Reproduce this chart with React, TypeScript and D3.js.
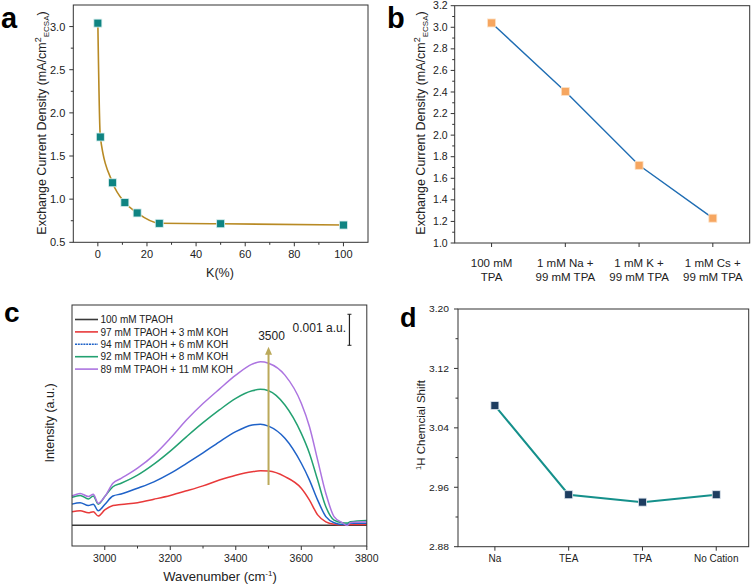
import React from "react";
import * as d3 from "d3";

// ---------- Panel a ----------
const kPercent = [0, 1, 6, 11, 16, 25, 50, 100];
const kDensity = [3.04, 1.72, 1.19, 0.96, 0.84, 0.72, 0.715, 0.70];

// ---------- Panel b ----------
const bCategories = [
  ["100 mM", "TPA"],
  ["1 mM Na +", "99 mM TPA"],
  ["1 mM K +", "99 mM TPA"],
  ["1 mM Cs +", "99 mM TPA"],
];
const bDensity = [3.04, 2.405, 1.72, 1.23];

// ---------- Panel c ----------
const wavenumbers = [2900, 2925, 2950, 2965, 2980, 3000, 3025, 3050, 3100, 3150, 3200, 3250, 3300, 3350, 3400, 3450, 3475, 3500, 3550, 3600, 3625, 3650, 3675, 3700, 3725, 3740, 3750, 3800];
const s100TPAOH = [0, 0, 0, 0, 0, 0, 0, 0, 0, 0, 0, 0, 0, 0, 0, 0, 0, 0, 0, 0, 0, 0, 0, 0, 0, 0, 0, 0];
const s3KOH = [0.47, 0.5, 0.43, 0.47, 0.32, 0.53, 0.68, 0.72, 0.78, 0.9, 1.03, 1.19, 1.36, 1.56, 1.73, 1.85, 1.88, 1.87, 1.68, 1.28, 0.87, 0.36, 0.12, 0.04, 0.02, 0.02, 0.03, 0.03];
const s6KOH = [0.73, 0.78, 0.68, 0.73, 0.5, 0.72, 1.01, 1.08, 1.28, 1.5, 1.79, 2.14, 2.5, 2.88, 3.23, 3.46, 3.49, 3.42, 3.0, 2.14, 1.56, 0.87, 0.3, 0.09, 0.03, 0.04, 0.07, 0.07];
const s8KOH = [0.97, 1.03, 0.91, 1.01, 0.73, 0.99, 1.33, 1.45, 1.73, 2.11, 2.56, 3.06, 3.54, 3.98, 4.38, 4.64, 4.69, 4.64, 4.15, 3.17, 2.48, 1.56, 0.64, 0.18, 0.09, 0.08, 0.12, 0.17];
const s11KOH = [1.01, 1.1, 0.99, 1.07, 0.76, 0.99, 1.45, 1.62, 1.97, 2.42, 3.0, 3.64, 4.2, 4.7, 5.18, 5.56, 5.64, 5.59, 5.18, 4.21, 3.4, 2.25, 1.1, 0.3, 0.09, -0.01, 0.09, 0.12];
const cLegend = [
  "100 mM TPAOH",
  "97 mM TPAOH + 3 mM KOH",
  "94 mM TPAOH + 6 mM KOH",
  "92 mM TPAOH + 8 mM KOH",
  "89 mM TPAOH + 11 mM KOH",
];
const cSeries = [s100TPAOH, s3KOH, s6KOH, s8KOH, s11KOH];
const cColors = ["#3a3a3a", "#e8393a", "#1f62c8", "#23a171", "#ac74e0"];
const cTicks = [3000, 3200, 3400, 3600, 3800];

// ---------- Panel d ----------
const dCategories = ["Na", "TEA", "TPA", "No Cation"];
const dShift = [3.07, 2.95, 2.94, 2.95];
const dTicks = [2.88, 2.96, 3.04, 3.12, 3.2];

const FONT = "Arial, 'Liberation Sans', Helvetica, sans-serif";
const AX = "#333";

function Frame({ x0, x1, y0, y1 }: any) {
  return <rect x={x0} y={y0} width={x1 - x0} height={y1 - y0} fill="none" stroke={AX} strokeWidth={1} />;
}

function PanelA() {
  const x = d3.scaleLinear().domain([-10, 110]).range([73.3, 368]);
  const y = d3.scaleLinear().domain([0.5, 3.25]).range([242.3, 5]);
  const line = d3.line<number>().x((_, i) => x(kPercent[i])).y((d) => y(d)).curve(d3.curveMonotoneX);
  const xMaj = d3.range(0, 101, 20);
  const xMin = d3.range(-10, 111, 10).filter((v) => v % 20 !== 0 && v > -10 && v < 110);
  const yMaj = d3.range(0.5, 3.01, 0.5);
  const yMin = d3.range(0.75, 3.25, 0.5);
  const [x0, x1] = x.range();
  const [y1, y0] = y.range();
  return (
    <g>
      <text x={1} y={27.5} fontSize={29} fontWeight="bold" fontFamily={FONT}>a</text>
      <Frame x0={x0} x1={x1} y0={y0} y1={y1} />
      {xMaj.map((v) => (
        <g key={"xa" + v}>
          <line x1={x(v)} x2={x(v)} y1={y1} y2={y1 + 4} stroke={AX} />
          <text x={x(v)} y={y1 + 16} fontSize={11} textAnchor="middle" fontFamily={FONT} fill="#222">{v}</text>
        </g>
      ))}
      {xMin.map((v) => <line key={"xm" + v} x1={x(v)} x2={x(v)} y1={y1} y2={y1 + 2.5} stroke={AX} />)}
      {yMaj.map((v) => (
        <g key={"ya" + v}>
          <line x1={x0} x2={x0 - 4} y1={y(v)} y2={y(v)} stroke={AX} />
          <text x={x0 - 8} y={y(v) + 4} fontSize={11} textAnchor="end" fontFamily={FONT} fill="#222">{v.toFixed(1)}</text>
        </g>
      ))}
      {yMin.map((v) => <line key={"ym" + v} x1={x0} x2={x0 - 2.5} y1={y(v)} y2={y(v)} stroke={AX} />)}
      <path d={line(kDensity) || ""} fill="none" stroke="#b88a24" strokeWidth={1.6} />
      {kDensity.map((v, i) => (
        <rect key={"pa" + i} x={x(kPercent[i]) - 4} y={y(v) - 4} width={8} height={8} fill="#0f8482" stroke="#d9eeee" strokeWidth={0.8} />
      ))}
      <text x={220} y={277} fontSize={12.5} textAnchor="middle" fontFamily={FONT} fill="#222">K(%)</text>
      <text transform="translate(46,123) rotate(-90)" fontSize={12.5} textAnchor="middle" fontFamily={FONT} fill="#222">
        Exchange Current Density (mA/cm<tspan fontSize={9} dy={-5}>2</tspan><tspan fontSize={8} dy={8}>ECSA</tspan><tspan dy={-3}>)</tspan>
      </text>
    </g>
  );
}

function PanelB() {
  const x = d3.scaleLinear().domain([-0.5, 3.5]).range([454.7, 749.7]);
  const y = d3.scaleLinear().domain([1.0, 3.2]).range([243, 5.7]);
  const line = d3.line<number>().x((_, i) => x(i)).y((d) => y(d));
  const yMaj = d3.range(0, 12).map((i) => 1.0 + i * 0.2);
  const yMin = d3.range(0, 11).map((i) => 1.1 + i * 0.2);
  const [x0, x1] = x.range();
  const [y1, y0] = y.range();
  return (
    <g>
      <text x={387} y={27.5} fontSize={29} fontWeight="bold" fontFamily={FONT}>b</text>
      <Frame x0={x0} x1={x1} y0={y0} y1={y1} />
      {yMaj.map((v) => (
        <g key={"yb" + v}>
          <line x1={x0} x2={x0 - 4} y1={y(v)} y2={y(v)} stroke={AX} />
          <text x={x0 - 7} y={y(v) + 3.6} fontSize={10.5} textAnchor="end" fontFamily={FONT} fill="#222">{v.toFixed(1)}</text>
        </g>
      ))}
      {yMin.map((v) => <line key={"ybm" + v} x1={x0} x2={x0 - 2.5} y1={y(v)} y2={y(v)} stroke={AX} />)}
      {bCategories.map((c, i) => (
        <g key={"xb" + i}>
          <line x1={x(i)} x2={x(i)} y1={y1} y2={y1 + 4} stroke={AX} />
          <text x={x(i)} y={267} fontSize={11.5} textAnchor="middle" fontFamily={FONT} fill="#222">{c[0]}</text>
          <text x={x(i)} y={281} fontSize={11.5} textAnchor="middle" fontFamily={FONT} fill="#222">{c[1]}</text>
        </g>
      ))}
      <path d={line(bDensity) || ""} fill="none" stroke="#1f6db3" strokeWidth={1.4} />
      {bDensity.map((v, i) => (
        <rect key={"pb" + i} x={x(i) - 4} y={y(v) - 4} width={8} height={8} fill="#f6a660" stroke="#fde3c8" strokeWidth={0.8} />
      ))}
      <text transform="translate(424.5,123) rotate(-90)" fontSize={12.5} textAnchor="middle" fontFamily={FONT} fill="#222">
        Exchange Current Density (mA/cm<tspan fontSize={9} dy={-5}>2</tspan><tspan fontSize={8} dy={8}>ECSA</tspan><tspan dy={-3}>)</tspan>
      </text>
    </g>
  );
}

function PanelC() {
  const x = d3.scaleLinear().domain([2900, 3800]).range([72, 366.8]);
  const y = d3.scaleLinear().domain([-0.714, 7.6]).range([546, 305]);
  const line = d3.line<number>().x((_, i) => x(wavenumbers[i])).y((d) => y(d)).curve(d3.curveMonotoneX);
  const xMin = [3100, 3300, 3500, 3700];
  const [x0, x1] = x.range();
  const [y1, y0] = y.range();
  const ax = x(3500);
  const tip = y(6.16);
  return (
    <g>
      <text x={4} y={322} fontSize={28} fontWeight="bold" fontFamily={FONT}>c</text>
      {cSeries.map((s, i) => (
        <path key={"cs" + i} d={line(s) || ""} fill="none" stroke={cColors[i]} strokeWidth={1.5} />
      ))}
      <Frame x0={x0} x1={x1} y0={y0} y1={y1} />
      {cTicks.map((v) => (
        <g key={"xc" + v}>
          <line x1={x(v)} x2={x(v)} y1={y1} y2={y1 + 4} stroke={AX} />
          <text x={x(v)} y={561.5} fontSize={10.5} textAnchor="middle" fontFamily={FONT} fill="#222">{v}</text>
        </g>
      ))}
      {xMin.map((v) => <line key={"xcm" + v} x1={x(v)} x2={x(v)} y1={y1} y2={y1 + 2.5} stroke={AX} />)}
      {cLegend.map((t, i) => {
        const ly = 319.5 + i * 12.4;
        return (
          <g key={"lg" + i}>
            <line x1={75} x2={98} y1={ly} y2={ly} stroke={cColors[i]} strokeWidth={1.6} strokeDasharray={i === 2 ? "2,0.8" : undefined} />
            <text x={100.5} y={ly + 3.6} fontSize={10} fontFamily={FONT} fill="#222">{t}</text>
          </g>
        );
      })}
      {/* arrow at 3500 */}
      <line x1={ax} x2={ax} y1={y(1.39)} y2={tip + 7} stroke="#bba95a" strokeWidth={2} />
      <path d={`M${ax - 3.5},${tip + 8} L${ax},${tip} L${ax + 3.5},${tip + 8} Z`} fill="#bba95a" />
      <text x={271.5} y={340} fontSize={12} textAnchor="middle" fontFamily={FONT} fill="#222">3500</text>
      {/* scale bar */}
      <line x1={x(3747)} x2={x(3747)} y1={y(7.28)} y2={y(6.21)} stroke="#222" strokeWidth={1.2} />
      <line x1={x(3747) - 2} x2={x(3747) + 2} y1={y(7.28)} y2={y(7.28)} stroke="#222" strokeWidth={1} />
      <line x1={x(3747) - 2} x2={x(3747) + 2} y1={y(6.21)} y2={y(6.21)} stroke="#222" strokeWidth={1} />
      <text x={346} y={332} fontSize={12} textAnchor="end" fontFamily={FONT} fill="#222">0.001 a.u.</text>
      <text x={220} y={581} fontSize={13} textAnchor="middle" fontFamily={FONT} fill="#222">
        Wavenumber (cm<tspan fontSize={8} dy={-5}>-1</tspan><tspan dy={5}>)</tspan>
      </text>
      <text transform="translate(54,423) rotate(-90)" fontSize={12.5} textAnchor="middle" fontFamily={FONT} fill="#222">Intensity (a.u.)</text>
    </g>
  );
}

function PanelD() {
  const x = d3.scaleLinear().domain([-0.5, 3.44]).range([458, 748.7]);
  const y = d3.scaleLinear().domain([2.88, 3.2]).range([546.7, 309]);
  const line = d3.line<number>().x((_, i) => x(i)).y((d) => y(d));
  const yMin = [2.92, 3.0, 3.08, 3.16];
  const [x0, x1] = x.range();
  const [y1, y0] = y.range();
  return (
    <g>
      <text x={400} y={327} fontSize={27} fontWeight="bold" fontFamily={FONT}>d</text>
      <Frame x0={x0} x1={x1} y0={y0} y1={y1} />
      {dTicks.map((v) => (
        <g key={"yd" + v}>
          <line x1={x0} x2={x0 - 4} y1={y(v)} y2={y(v)} stroke={AX} />
          <text x={x0 - 9} y={y(v) + 3.3} fontSize={9.5} textAnchor="end" fontFamily={FONT} fill="#222" textLength={20} lengthAdjust="spacingAndGlyphs">{v.toFixed(2)}</text>
        </g>
      ))}
      {yMin.map((v) => <line key={"ydm" + v} x1={x0} x2={x0 - 2.5} y1={y(v)} y2={y(v)} stroke={AX} />)}
      {dCategories.map((c, i) => (
        <g key={"xd" + i}>
          <line x1={x(i)} x2={x(i)} y1={y1} y2={y1 + 4} stroke={AX} />
          <text x={x(i)} y={561.5} fontSize={10} textAnchor="middle" fontFamily={FONT} fill="#222">{c}</text>
        </g>
      ))}
      <path d={line(dShift) || ""} fill="none" stroke="#15908b" strokeWidth={2} />
      {dShift.map((v, i) => (
        <rect key={"pd" + i} x={x(i) - 4} y={y(v) - 4} width={8} height={8} fill="#1d3d60" stroke="#dfe6ee" strokeWidth={0.8} />
      ))}
      <text transform="translate(425,425) rotate(-90)" fontSize={11.5} textAnchor="middle" fontFamily={FONT} fill="#222">
        <tspan fontSize={7.5} dy={-4}>1</tspan><tspan dy={4}>H Chemcial Shift</tspan>
      </text>
    </g>
  );
}

export default function App() {
  return (
    <svg width={756} height={586} style={{ position: "absolute", left: 0, top: 0, background: "#fff" }}>
      <rect x={0} y={0} width={756} height={586} fill="#fff" />
      <PanelA />
      <PanelB />
      <PanelC />
      <PanelD />
    </svg>
  );
}
